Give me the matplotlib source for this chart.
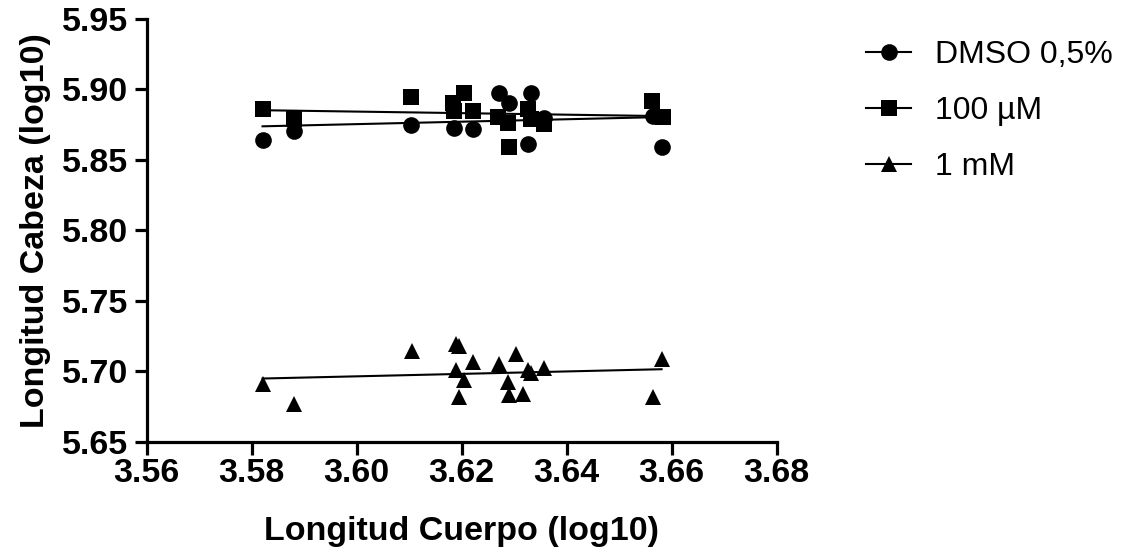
import numpy as np
import matplotlib.pyplot as plt
from matplotlib.lines import Line2D

plt.rcParams['font.family'] = ['Liberation Sans', 'DejaVu Sans']

# data (log10 values)
dmso_x = [3.5821, 3.5880, 3.6103, 3.6183, 3.6186, 3.6221, 3.6271, 3.6291, 3.6333,
          3.6326, 3.6358, 3.6565, 3.6581]
dmso_y = [5.8643, 5.8706, 5.8746, 5.8871, 5.8723, 5.8718, 5.8977, 5.8906, 5.8972,
          5.8613, 5.8794, 5.8812, 5.8589]

um100_x = [3.5821, 3.5880, 3.6103, 3.6183, 3.6205, 3.6186, 3.6221, 3.6269, 3.6288,
           3.6326, 3.6333, 3.6358, 3.6291, 3.6563, 3.6584]
um100_y = [5.8859, 5.8789, 5.8949, 5.8906, 5.8972, 5.8847, 5.8847, 5.8801, 5.8765,
           5.8859, 5.8789, 5.8754, 5.8589, 5.8918, 5.8801]

mm1_x = [3.5821, 3.5880, 3.6105, 3.6189, 3.6196, 3.6221, 3.6189, 3.6205, 3.6196,
         3.6271, 3.6304, 3.6289, 3.6291, 3.6317, 3.6326, 3.6333, 3.6357, 3.6581, 3.6565]
mm1_y = [5.6913, 5.6765, 5.7143, 5.7196, 5.7177, 5.7066, 5.7007, 5.6941, 5.6814,
         5.7054, 5.7120, 5.6924, 5.6830, 5.6842, 5.7007, 5.6988, 5.7023, 5.7090, 5.6818]

labels = ['DMSO 0,5%', '100 µM', '1 mM']
markers = ['o', 's', '^']
xticks = [3.56, 3.58, 3.60, 3.62, 3.64, 3.66, 3.68]
yticks = [5.65, 5.70, 5.75, 5.80, 5.85, 5.90, 5.95]

fig = plt.figure(figsize=(11.34, 5.54), dpi=100)
ax = fig.add_axes([0.1292, 0.2027, 0.5556, 0.763])

groups = [(dmso_x, dmso_y), (um100_x, um100_y), (mm1_x, mm1_y)]
for (gx, gy), m in zip(groups, markers):
    gx = np.array(gx)
    gy = np.array(gy)
    k, b = np.polyfit(gx, gy, 1)
    xs = np.array([gx.min(), gx.max()])
    ax.plot(xs, k * xs + b, color='black', lw=1.5, zorder=2)
    ax.plot(gx, gy, linestyle='none', marker=m, ms=12, color='black',
            markeredgewidth=0, zorder=3, clip_on=False)

ax.set_xlim(3.56, 3.68)
ax.set_ylim(5.65, 5.95)
ax.set_xticks(xticks)
ax.set_yticks(yticks)
ax.set_xticklabels([f'{t:.2f}' for t in xticks])
ax.set_yticklabels([f'{t:.2f}' for t in yticks])

for s in ['top', 'right']:
    ax.spines[s].set_visible(False)
for s in ['left', 'bottom']:
    ax.spines[s].set_linewidth(2.3)
ax.tick_params(width=2.3, length=9, labelsize=24.5, direction='out')
ax.tick_params(axis='x', pad=3)
ax.tick_params(axis='y', pad=4)
for lab in ax.get_xticklabels() + ax.get_yticklabels():
    lab.set_fontweight('bold')

ax.set_xlabel('Longitud Cuerpo (log10)', fontsize=24.5, fontweight='bold', labelpad=19)
ax.set_ylabel('Longitud Cabeza (log10)', fontsize=24.5, fontweight='bold', labelpad=8)

handles = [Line2D([], [], color='black', lw=1.5, marker=m, ms=12, markeredgewidth=0)
           for m in markers]
fig.legend(handles, labels, loc='upper left', bbox_to_anchor=(0.764, 0.928),
           frameon=False, fontsize=23, handlelength=1.4, handletextpad=0.75,
           labelspacing=0.82, borderpad=0, borderaxespad=0)

fig.savefig('out.png', dpi=100)
